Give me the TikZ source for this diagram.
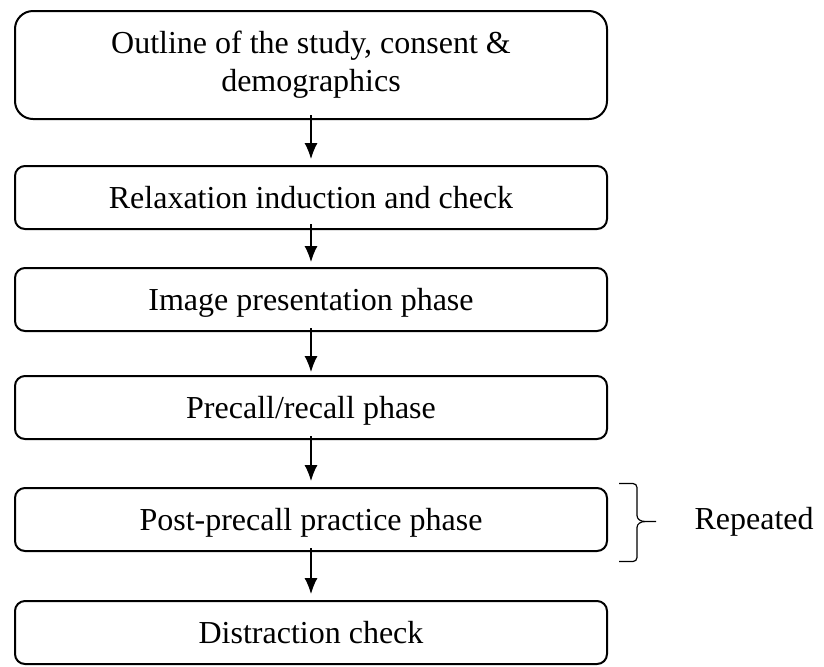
\documentclass[tikz,border=0pt]{standalone}
\usepackage{fontspec}
\setmainfont{Liberation Serif}
\usetikzlibrary{arrows.meta, positioning}
\tikzstyle{block}=[draw,fill=white,rectangle,rounded corners=5pt,line width=1pt,minimum width=296pt,minimum height=31.5pt,align=center]
\tikzstyle{oneline}=[block,text height=14.2pt,text depth=3.5pt]
\tikzstyle{every node}=[font=\fontsize{16pt}{19pt}\selectfont]

\begin{document}
\begin{tikzpicture}[auto,>={Latex[length=8pt,width=6.5pt]},line width=0.6pt]
  \useasboundingbox (0,0) rectangle (412pt,-333pt);
  \node[block,rounded corners=9pt,minimum height=54pt] (outline) at (155.5pt,-32.5pt) {Outline of the study, consent \&\\demographics};
  \node[oneline,below=22.5pt of outline] (relax) {Relaxation induction and check};
  \node[oneline,below=18.5pt of relax] (image) {Image presentation phase};
  \node[oneline,below=21.5pt of image] (recall) {Precall/recall phase};
  \node[oneline,below=23.5pt of recall] (post) {Post-precall practice phase};
  \node[oneline,below=24pt of post] (distract) {Distraction check};
  \draw[->,shorten <=-2.5pt,shorten >=3pt] (outline) -- (relax);
  \draw[->,shorten <=-3pt,shorten >=2.5pt] (relax) -- (image);
  \draw[->,shorten <=-2pt,shorten >=1.5pt] (image) -- (recall);
  \draw[->,shorten <=-2pt,shorten >=3pt] (recall) -- (post);
  \draw[->,shorten <=-2pt,shorten >=3pt] (post) -- (distract);
  % brace round the repeated phase
  \coordinate (bracemid) at ([xshift=14.5pt,yshift=-1pt]post.east);
  \coordinate (bracetip) at ([xshift=9.5pt]bracemid);
  \draw ([xshift=-9pt,yshift=19pt]bracemid) -- ([xshift=-2pt,yshift=19pt]bracemid)
    to[out=0,in=90] ([yshift=17pt]bracemid) -- ([yshift=3pt]bracemid)
    to[out=-90,in=180] ([xshift=4pt]bracemid) -- (bracetip);
  \draw ([xshift=4pt]bracemid) to[out=180,in=90] ([yshift=-3pt]bracemid)
    -- ([yshift=-18pt]bracemid) to[out=-90,in=0] ([xshift=-2pt,yshift=-20pt]bracemid)
    -- ([xshift=-9pt,yshift=-20pt]bracemid);
  \node[right=19pt of bracetip,inner sep=0pt] (repeated) {Repeated};
\end{tikzpicture}
\end{document}
